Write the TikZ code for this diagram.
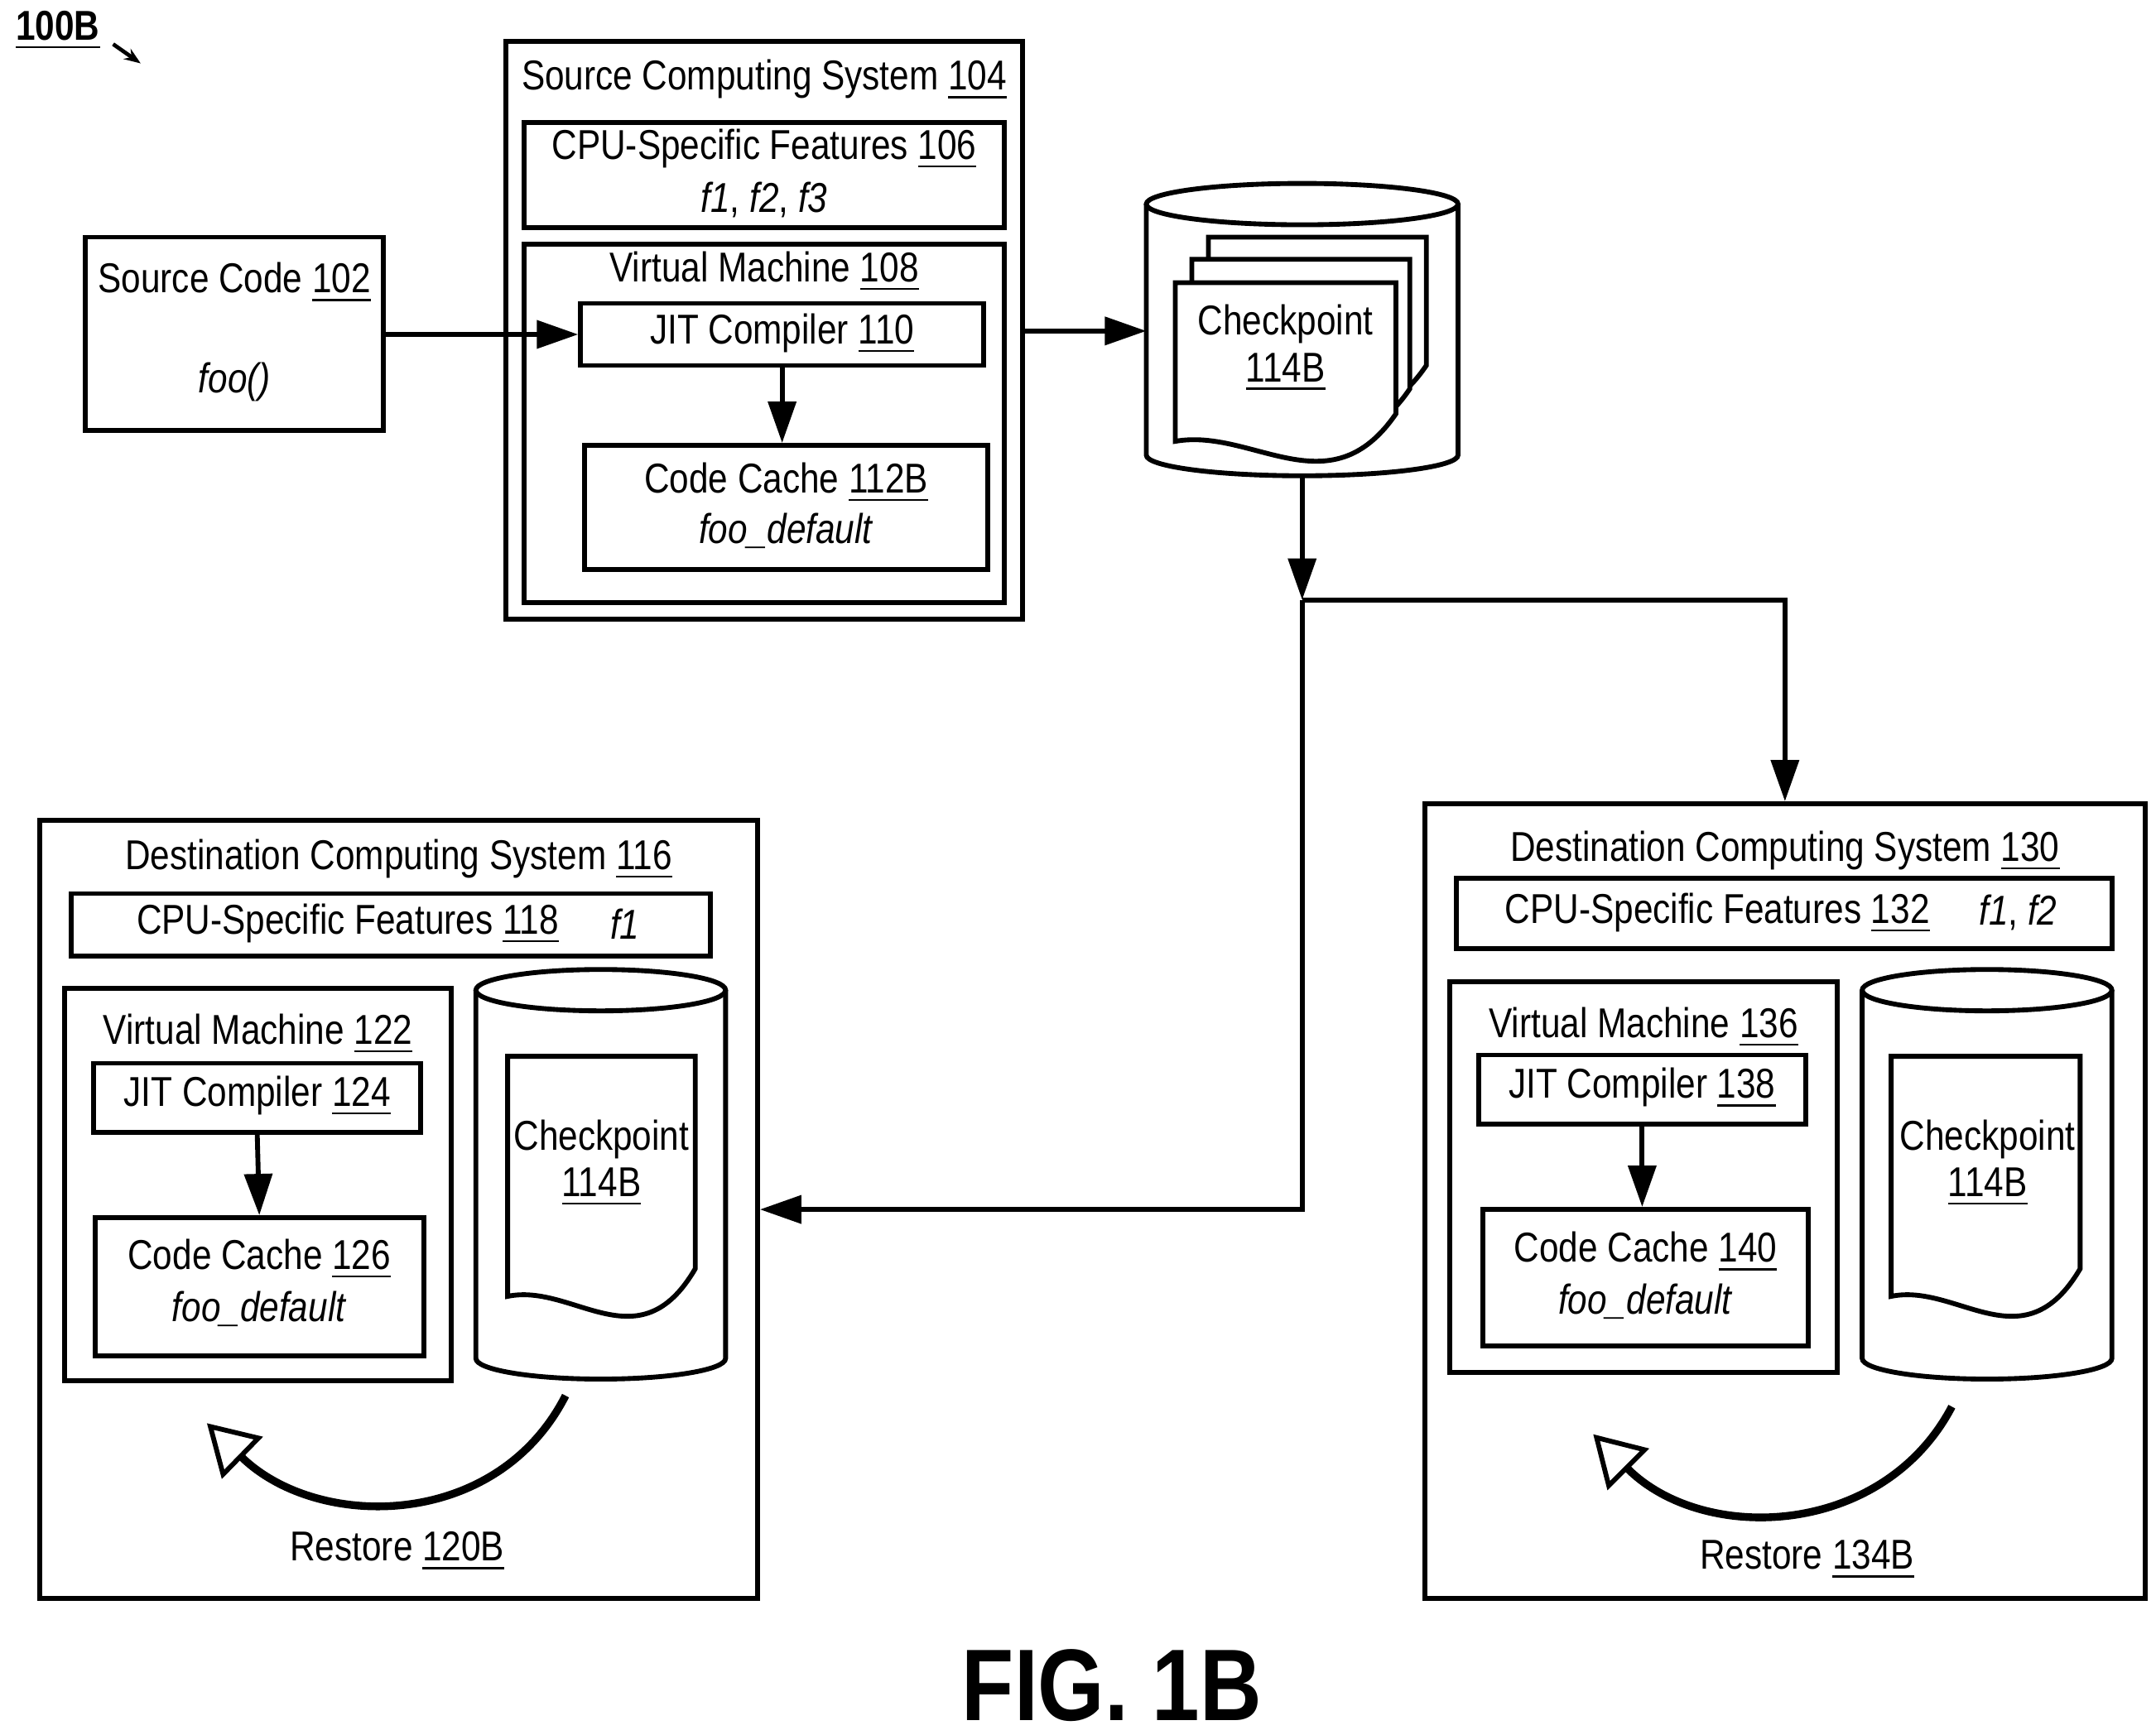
\documentclass[tikz,border=0pt]{standalone}
\usepackage{fontspec}
\setmainfont{Liberation Sans}[FakeStretch=0.84]
\usetikzlibrary{arrows.meta, positioning, calc}

\tikzset{
  box/.style={draw, line width=1pt, inner sep=0pt, fill=white},
  lbl/.style={font=\fontsize{8.6}{10}\selectfont, inner sep=0pt},
  conn/.style={line width=1pt, -{Triangle[length=0.3cm, width=0.2cm]}},
  restore/.style={line width=1.6pt, -{Triangle[open, length=0.36cm, width=0.42cm, line width=1pt]}}
}
% cylinder: centre x, top y, bottom y, x radius
\newcommand{\drum}[4]{%
  \filldraw[line width=1pt, fill=white] ({#1-#4},{-#2}) -- ({#1-#4},{-#3})
    arc[start angle=180, end angle=360, x radius=#4, y radius=15] -- ({#1+#4},{-#2});
  \draw[line width=1pt] (#1,{-#2}) ellipse[x radius=#4, y radius=15];}
% document with wavy bottom: x1, y1, x2, y2
\newcommand{\page}[4]{%
  \filldraw[line width=1pt, fill=white] (#1,{-#2}) -- (#3,{-#2}) -- (#3,{-#4+30})
    .. controls ({#3-0.3*(#3-#1)},{-#4-40}) and ({#1+0.35*(#3-#1)},{-#4+20}) .. (#1,{-#4+10}) -- cycle;}

\begin{document}
\begin{tikzpicture}[x=0.01cm, y=0.01cm]
    \useasboundingbox (0,0) rectangle (1563,-1258);

    % Label
    \node[lbl, font=\fontsize{8.6}{10}\selectfont\bfseries] (fig) at (42,-22) {\underline{100B}};
    \draw[line width=0.8pt, -{Stealth[length=0.12cm]}] (82,-32) -- (102,-46);

    % Source code
    \node[box, minimum width=2.16cm, minimum height=1.40cm] (src) at (170,-242) {};
    \node[lbl] at (170,-205) {Source Code \underline{102}};
    \node[lbl] at (170,-277) {\textit{foo()}};

    % Source computing system
    \node[box, minimum width=3.74cm, minimum height=4.19cm] (sys104) at (554,-239.5) {};
    \node[lbl] at (554,-58) {Source Computing System \underline{104}};
    \node[box, minimum width=3.48cm, minimum height=0.76cm] (cpu106) at (554,-127) {};
    \node[lbl] at (554,-108) {CPU-Specific Features \underline{106}};
    \node[lbl] at (554,-145) {\textit{f1}, \textit{f2}, \textit{f3}};
    \node[box, minimum width=3.48cm, minimum height=2.60cm] (vm108) at (554,-307) {};
    \node[lbl] at (554,-197) {Virtual Machine \underline{108}};
    \node[box, minimum width=2.92cm, minimum height=0.45cm] (jit110) at (567,-242.5) {};
    \node[lbl] at (567,-242) {JIT Compiler \underline{110}};
    \node[box, minimum width=2.92cm, minimum height=0.90cm] (cc112) at (570,-368) {};
    \node[lbl] at (570,-350) {Code Cache \underline{112B}};
    \node[lbl] at (570,-385) {\textit{foo\_default}};

    % Checkpoint store
    \drum{944}{148}{330}{113}
    \page{876}{172}{1034}{295}
    \page{864}{188}{1022}{312}
    \page{852}{205}{1012}{330}
    \node[lbl] at (932,-235) {Checkpoint};
    \node[lbl] at (932,-270) {\underline{114B}};
    \coordinate (ck1w) at (831,-240);
    \coordinate (ck1s) at (944,-345);
    \coordinate (split) at (944,-435);

    % Destination computing system 116
    \node[box, minimum width=5.20cm, minimum height=5.64cm] (dest116) at (289,-877) {};
    \node[lbl] at (289,-623) {Destination Computing System \underline{116}};
    \node[box, minimum width=4.63cm, minimum height=0.45cm] (cpu118) at (283.5,-670.5) {};
    \node[lbl] at (252,-670) {CPU-Specific Features \underline{118}};
    \node[lbl] at (453,-670) {\textit{f1}};
    \node[box, minimum width=2.80cm, minimum height=2.84cm] (vm122) at (187,-859) {};
    \node[lbl] at (187,-750) {Virtual Machine \underline{122}};
    \node[box, minimum width=2.37cm, minimum height=0.50cm] (jit124) at (186.5,-796) {};
    \node[lbl] at (186.5,-795) {JIT Compiler \underline{124}};
    \node[box, minimum width=2.38cm, minimum height=1.00cm] (cc126) at (188,-933) {};
    \node[lbl] at (188,-913) {Code Cache \underline{126}};
    \node[lbl] at (188,-949) {\textit{foo\_default}};
    \drum{435.5}{718}{985}{90.5}
    \page{368}{766}{504}{950}
    \node[lbl] at (436,-826) {Checkpoint};
    \node[lbl] at (436,-861) {\underline{114B}};
    \coordinate (r116a) at (410,-1012);
    \coordinate (r116b) at (150,-1032);
    \node[lbl] at (288,-1125) {Restore \underline{120B}};

    % Destination computing system 130
    \node[box, minimum width=5.22cm, minimum height=5.76cm] (dest130) at (1294,-871) {};
    \node[lbl] at (1294,-617) {Destination Computing System \underline{130}};
    \node[box, minimum width=4.75cm, minimum height=0.51cm] (cpu132) at (1293.5,-662.5) {};
    \node[lbl] at (1245,-662) {CPU-Specific Features \underline{132}};
    \node[lbl] at (1463,-662) {\textit{f1}, \textit{f2}};
    \node[box, minimum width=2.81cm, minimum height=2.83cm] (vm136) at (1191.5,-853.5) {};
    \node[lbl] at (1191.5,-745) {Virtual Machine \underline{136}};
    \node[box, minimum width=2.37cm, minimum height=0.50cm] (jit138) at (1190.5,-790) {};
    \node[lbl] at (1190.5,-789) {JIT Compiler \underline{138}};
    \node[box, minimum width=2.36cm, minimum height=0.99cm] (cc140) at (1193,-926.5) {};
    \node[lbl] at (1193,-908) {Code Cache \underline{140}};
    \node[lbl] at (1193,-944) {\textit{foo\_default}};
    \drum{1440.5}{718}{985}{90.5}
    \page{1371}{766}{1508}{950}
    \node[lbl] at (1441,-826) {Checkpoint};
    \node[lbl] at (1441,-861) {\underline{114B}};
    \coordinate (r130a) at (1415,-1020);
    \coordinate (r130b) at (1155,-1040);
    \node[lbl] at (1310,-1131) {Restore \underline{134B}};

    % Connectors
    \draw[conn] (src.east |- jit110) -- (jit110.west);
    \draw[conn] (jit110.south) -- (jit110.south |- cc112.north);
    \draw[conn] (sys104.east |- ck1w) -- (ck1w);
    \draw[conn] (ck1s) -- (split);
    \draw[conn] (split) -| (dest130.north);
    \draw[conn] (split) |- (dest116.east);
    \draw[conn] (jit124.south) -- (cc126.north);
    \draw[conn] (jit138.south) -- (jit138.south |- cc140.north);

    % Restore arrows
    \draw[restore] (r116a) .. controls (360,-1110) and (230,-1110) .. (r116b);
    \draw[restore] (r130a) .. controls (1365,-1115) and (1235,-1120) .. (r130b);

    \node[font=\fontsize{21}{24}\selectfont\bfseries, inner sep=0pt] (title) at (806,-1222) {FIG. 1B};
\end{tikzpicture}
\end{document}
